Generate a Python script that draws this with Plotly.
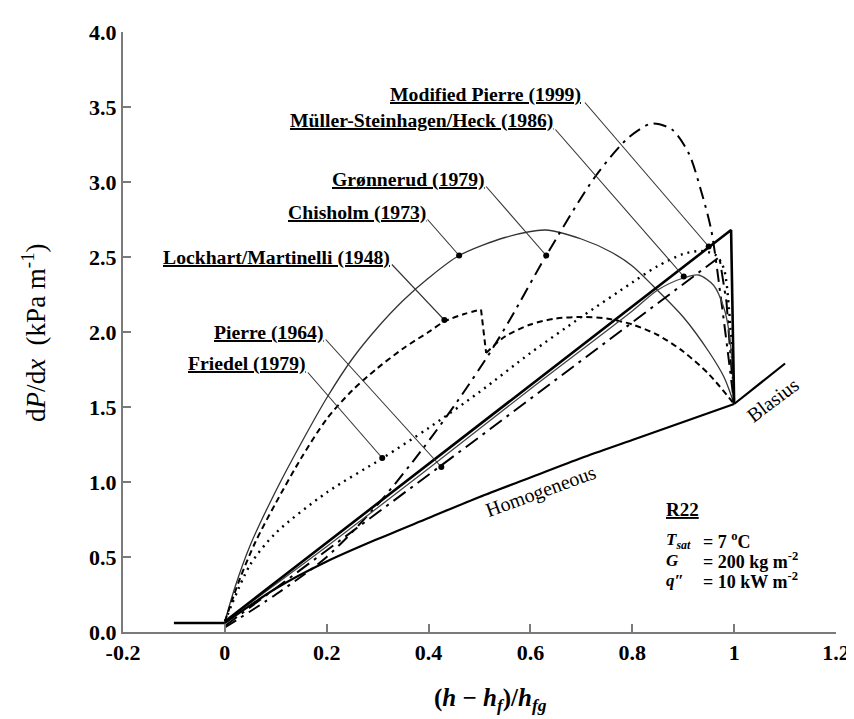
import plotly.graph_objects as go

# ---------------- data ----------------
liquid_x = [-0.1, 0.0]
liquid_y = [0.06, 0.06]

homog_x = [0.0, 0.1, 0.2, 0.3, 0.4, 0.5, 0.6, 0.7, 0.8, 0.9, 1.0]
homog_y = [0.06, 0.29, 0.47, 0.62, 0.76, 0.90, 1.03, 1.16, 1.28, 1.40, 1.52]

blasius_x = [1.0, 1.1]
blasius_y = [1.52, 1.79]

mod_pierre_x = [0.0, 0.994, 1.0]
mod_pierre_y = [0.07, 2.68, 1.52]

msh_x = [0.0, 0.2, 0.4, 0.6, 0.8, 0.85, 0.9, 0.93, 0.96, 0.98, 0.99, 0.997, 1.0]
msh_y = [0.07, 0.57, 1.09, 1.62, 2.14, 2.28, 2.36, 2.38, 2.31, 2.16, 2.00, 1.75, 1.52]

chisholm_x = [0.0, 0.02, 0.05, 0.1, 0.15, 0.2, 0.25, 0.3, 0.35, 0.4, 0.46, 0.55, 0.63,
              0.7, 0.76, 0.8, 0.84, 0.9, 0.95, 0.98, 1.0]
chisholm_y = [0.07, 0.30, 0.58, 0.94, 1.26, 1.56, 1.82, 2.03, 2.21, 2.36, 2.51, 2.63, 2.68,
              2.62, 2.53, 2.44, 2.31, 2.10, 1.87, 1.70, 1.52]

lm_x = [0.0, 0.03, 0.06, 0.1, 0.15, 0.2, 0.25, 0.3, 0.35, 0.4, 0.431, 0.47, 0.503,
        0.513, 0.55, 0.6, 0.65, 0.7, 0.75, 0.8, 0.85, 0.9, 0.95, 1.0]
lm_y = [0.07, 0.36, 0.60, 0.86, 1.16, 1.42, 1.61, 1.76, 1.89, 2.00, 2.07, 2.12, 2.15,
        1.86, 1.97, 2.05, 2.09, 2.10, 2.09, 2.05, 1.98, 1.87, 1.72, 1.52]

friedel_x = [0.0, 0.05, 0.1, 0.2, 0.31, 0.4, 0.5, 0.6, 0.7, 0.8, 0.85, 0.9, 0.935,
             0.965, 0.98, 0.99, 1.0]
friedel_y = [0.07, 0.45, 0.66, 0.93, 1.16, 1.36, 1.60, 1.86, 2.10, 2.33, 2.44, 2.52, 2.54,
             2.51, 2.42, 2.15, 1.52]

gron_x = [0.0, 0.1, 0.2, 0.3, 0.386, 0.457, 0.522, 0.561, 0.631, 0.728, 0.794, 0.839,
          0.878, 0.911, 0.936, 0.955, 0.975, 0.99, 1.0]
gron_y = [0.03, 0.25, 0.50, 0.85, 1.21, 1.54, 1.87, 2.09, 2.51, 3.04, 3.30, 3.39,
          3.35, 3.19, 2.93, 2.68, 2.20, 1.80, 1.52]

pierre_x = [0.0, 0.5, 0.971, 0.985, 1.0]
pierre_y = [0.04, 1.30, 2.50, 2.20, 1.52]

labels = ["Modified Pierre (1999)", "Müller-Steinhagen/Heck (1986)", "Grønnerud (1979)",
          "Chisholm (1973)", "Lockhart/Martinelli (1948)", "Pierre (1964)", "Friedel (1979)"]
label_x = [0.703, 0.649, 0.515, 0.398, 0.328, 0.198, 0.163]
label_y = [3.585, 3.41, 3.02, 2.80, 2.50, 2.00, 1.79]
lead_x0 = [0.707, 0.649, 0.513, 0.398, 0.328, 0.198, 0.163]
lead_y0 = [3.53, 3.35, 2.97, 2.75, 2.45, 1.95, 1.73]
dot_x = [0.950, 0.901, 0.631, 0.460, 0.431, 0.425, 0.309]
dot_y = [2.57, 2.37, 2.51, 2.51, 2.08, 1.10, 1.16]

cond_left = ["<b><i>T</i><sub><i>sat</i></sub></b>", "<b><i>G</i></b>", "<b><i>q″</i></b>"]
cond_right = ["<b>= 7 <sup>o</sup>C</b>", "<b>= 200 kg m<sup>-2</sup></b>", "<b>= 10 kW m<sup>-2</sup></b>"]
cond_y = [0.61, 0.478, 0.346]

x_ticks = [-0.2, 0.0, 0.2, 0.4, 0.6, 0.8, 1.0, 1.2]
x_ticktext = ["-0.2", "0", "0.2", "0.4", "0.6", "0.8", "1", "1.2"]
y_ticks = [0.0, 0.5, 1.0, 1.5, 2.0, 2.5, 3.0, 3.5, 4.0]
y_ticktext = ["0.0", "0.5", "1.0", "1.5", "2.0", "2.5", "3.0", "3.5", "4.0"]

# ---------------- figure ----------------
SERIF = "Liberation Serif"
fig = go.Figure()

def add_line(x, y, width, dash="solid", color="black", shape="linear"):
    fig.add_trace(go.Scatter(x=x, y=y, mode="lines",
                             line=dict(color=color, width=width, dash=dash, shape=shape,
                                       smoothing=0.8 if shape == "spline" else None),
                             showlegend=False, hoverinfo="skip"))

add_line(liquid_x, liquid_y, 2.5)
add_line(homog_x, homog_y, 2.2, shape="spline")
add_line(blasius_x, blasius_y, 2.2)
add_line(chisholm_x, chisholm_y, 1.3, color="#333333", shape="spline")
# Lockhart/Martinelli: rising branch, sudden drop, second branch
add_line(lm_x[:13], lm_y[:13], 2.0, dash="6px,4px", shape="spline")
add_line(lm_x[12:14], lm_y[12:14], 2.0, dash="6px,4px")
add_line(lm_x[13:], lm_y[13:], 2.0, dash="6px,4px", shape="spline")
add_line(friedel_x, friedel_y, 2.4, dash="2px,5px", shape="spline")
add_line(gron_x, gron_y, 2.0, dash="13px,6px,3px,6px", shape="spline")
add_line(pierre_x, pierre_y, 2.0, dash="15px,6px,3px,6px")
add_line(msh_x, msh_y, 1.3, color="#444444", shape="spline")
add_line(mod_pierre_x, mod_pierre_y, 2.6)

# leader lines and dots
for i in range(len(labels)):
    fig.add_trace(go.Scatter(x=[lead_x0[i], dot_x[i]], y=[lead_y0[i], dot_y[i]],
                             mode="lines", line=dict(color="#333333", width=1.1),
                             showlegend=False, hoverinfo="skip"))
fig.add_trace(go.Scatter(x=dot_x, y=dot_y, mode="markers",
                         marker=dict(color="black", size=6),
                         showlegend=False, hoverinfo="skip"))

for i, lab in enumerate(labels):
    fig.add_annotation(x=label_x[i], y=label_y[i], text="<b>" + lab + "</b>",
                       xanchor="right", yanchor="middle", showarrow=False,
                       font=dict(family=SERIF, size=19.7, color="black", lineposition="under"))

# curve annotations
fig.add_annotation(x=0.62, y=0.94, text="Homogeneous", textangle=-20,
                   showarrow=False, xanchor="center", yanchor="middle",
                   font=dict(family=SERIF, size=20, color="black"))
fig.add_annotation(x=1.075, y=1.55, text="Blasius", textangle=-37,
                   showarrow=False, xanchor="center", yanchor="middle",
                   font=dict(family=SERIF, size=20, color="black"))

# condition block
fig.add_annotation(x=0.862, y=0.817, text="<b>R22</b>", xanchor="left", yanchor="middle",
                   showarrow=False, font=dict(family=SERIF, size=19, color="black", lineposition="under"))
for cl, cr, cy in zip(cond_left, cond_right, cond_y):
    fig.add_annotation(x=0.862, y=cy, text=cl, xanchor="left", yanchor="middle", showarrow=False,
                       font=dict(family=SERIF, size=17, color="black"))
    fig.add_annotation(x=0.934, y=cy, text=cr, xanchor="left", yanchor="middle", showarrow=False,
                       font=dict(family=SERIF, size=18, color="black"))

# axis titles
fig.add_annotation(xref="paper", yref="paper", x=0.515, y=-0.113,
                   text="<b>(<i>h</i> − <i>h</i><sub><i>f</i></sub>)/<i>h</i><sub><i>fg</i></sub></b>",
                   showarrow=False, xanchor="center", yanchor="middle",
                   font=dict(family=SERIF, size=25, color="black"))
fig.add_annotation(xref="paper", yref="paper", x=-0.125, y=0.5,
                   text="d<i>P</i>/d<i>x</i>  (kPa m<sup>-1</sup>)", textangle=-90,
                   showarrow=False, xanchor="center", yanchor="middle",
                   font=dict(family=SERIF, size=27, color="black"))

axis_common = dict(showgrid=False, zeroline=False, showline=True, linecolor="#7a7a7a",
                   linewidth=2, ticks="inside", ticklen=8, tickwidth=1.5, tickcolor="#7a7a7a",
                   tickfont=dict(family=SERIF, size=22, color="black", weight="bold"))
fig.update_xaxes(range=[-0.2, 1.2], tickvals=x_ticks, ticktext=x_ticktext, **axis_common)
fig.update_yaxes(range=[0, 4.0], tickvals=y_ticks, ticktext=y_ticktext, **axis_common)

fig.update_layout(width=854, height=719, plot_bgcolor="white", paper_bgcolor="white",
                  margin=dict(l=115, r=18, t=17, b=95), showlegend=False)

fig.write_html("out.html")
